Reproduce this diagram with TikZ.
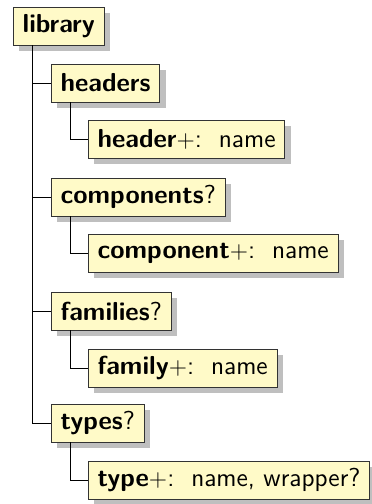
\documentclass[tikz,border=0pt]{standalone}
\usetikzlibrary{shadows}
\definecolor{boxfill}{RGB}{255,250,200}
\tikzset{
  elem/.style={draw=black!80, fill=boxfill, anchor=west, font=\fontsize{13}{15.6}\selectfont\sffamily,
    minimum height=19pt, inner xsep=4.6pt, inner ysep=0pt,
    drop shadow={shadow xshift=3pt, shadow yshift=-3pt, fill=black!25, opacity=1}},
  tree/.style={draw, thin}
}
\begin{document}
\begin{tikzpicture}[x=0.5pt,y=-0.5pt]
	\useasboundingbox (0,0) rectangle (371,504);
	\node[elem] (library)    at (13, 26) {\textbf{library}};
	\node[elem] (headers)    at (51, 83) {\textbf{headers}};
	\node[elem] (header)     at (88,139) {\textbf{header}$+$:~~name};
	\node[elem] (components) at (51,197) {\textbf{components}?};
	\node[elem] (component)  at (88,253) {\textbf{component}$+$:~~name};
	\node[elem] (families)   at (51,311) {\textbf{families}?};
	\node[elem] (family)     at (88,368) {\textbf{family}$+$:~~name};
	\node[elem] (types)      at (51,423) {\textbf{types}?};
	\node[elem] (type)       at (88,480) {\textbf{type}$+$:~~name, wrapper?};
	\draw[tree] (library.south west) ++(19,0) |- (headers.west)
	            (library.south west) ++(19,0) |- (components.west)
	            (library.south west) ++(19,0) |- (families.west)
	            (library.south west) ++(19,0) |- (types.west)
	            (headers.south west)    ++(19,0) |- (header.west)
	            (components.south west) ++(19,0) |- (component.west)
	            (families.south west)   ++(19,0) |- (family.west)
	            (types.south west)      ++(19,0) |- (type.west);
\end{tikzpicture}
\end{document}
